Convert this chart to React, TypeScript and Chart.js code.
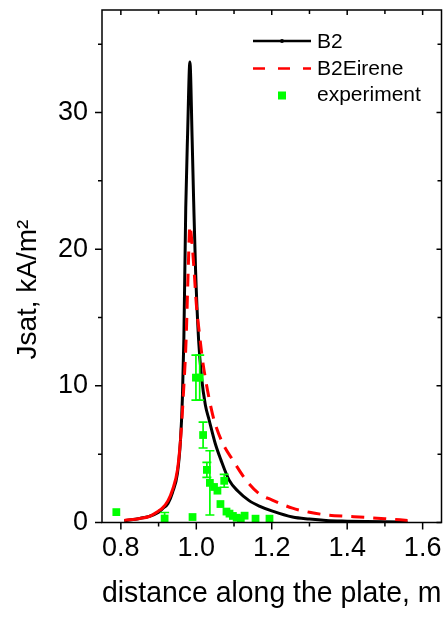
import React, { useEffect, useRef } from 'react';
import { Chart, registerables } from 'chart.js';
Chart.register(...registerables);

// ---- data ----
const seriesLabels = ['B2', 'B2Eirene', 'experiment'];

const b2X = [0.809, 0.85, 0.875, 0.9, 0.91, 0.925, 0.937, 0.95, 0.958, 0.963, 0.967, 0.972, 0.977, 0.983, 0.989, 0.993, 0.998, 1.006, 1.014, 1.024, 1.034, 1.05, 1.065, 1.087, 1.11, 1.14, 1.167, 1.2, 1.255, 1.3, 1.344, 1.4, 1.45, 1.5, 1.56];
const b2Y = [0.13, 0.3, 0.45, 0.75, 1.0, 1.4, 2.2, 3.6, 6.0, 9.0, 13.4, 23, 28.5, 33.7, 28, 23.5, 18.5, 13.4, 10.6, 8.6, 7.5, 5.8, 4.6, 3.1, 2.3, 1.6, 1.2, 0.85, 0.4, 0.25, 0.15, 0.1, 0.07, 0.05, 0.04];

const eirX = [0.809, 0.85, 0.875, 0.9, 0.91, 0.925, 0.937, 0.95, 0.958, 0.966, 0.973, 0.978, 0.983, 0.989, 0.994, 1.0, 1.01, 1.016, 1.025, 1.036, 1.047, 1.07, 1.096, 1.132, 1.167, 1.2, 1.255, 1.3, 1.344, 1.4, 1.432, 1.5, 1.56];
const eirY = [0.15, 0.3, 0.44, 0.85, 1.05, 1.6, 2.4, 3.85, 6.0, 9.5, 13.4, 18.0, 21.7, 20.3, 18.5, 16, 13.4, 12.0, 10.4, 8.8, 7.5, 5.8, 4.6, 3.1, 2.1, 1.66, 1.05, 0.75, 0.56, 0.45, 0.4, 0.28, 0.15];

const expX = [0.788, 0.916, 0.99, 0.999, 1.009, 1.018, 1.028, 1.036, 1.047, 1.056, 1.064, 1.074, 1.08, 1.088, 1.097, 1.107, 1.118, 1.128, 1.157, 1.194];
const expY = [0.76, 0.29, 0.4, 10.6, 10.6, 6.4, 3.85, 2.9, 2.6, 2.33, 1.35, 3.05, 0.8, 0.65, 0.48, 0.35, 0.3, 0.5, 0.28, 0.28];
const expErr = [0, 0.44, 0, 1.65, 1.65, 0.95, 0.55, 2.35, 0, 0, 0, 0.47, 0, 0, 0, 0, 0, 0, 0, 0];

const xMajorTicks = [0.8, 1.0, 1.2, 1.4, 1.6];
const xMinorTicks = [0.9, 1.1, 1.3, 1.5];
const yMajorTicks = [0, 10, 20, 30];
const yMinorTicks = [5, 15, 25, 35];

const xTitle = 'distance along the plate, m';
const yTitle = 'Jsat, kA/m\u00b2';

const FONT = "'Liberation Sans', Arial, Helvetica, sans-serif";
const GREEN = '#00ff00';
const RED = '#ff0000';
const BLACK = '#000000';

export default function App() {
  const ref = useRef<HTMLCanvasElement>(null);

  useEffect(() => {
    document.body.style.margin = '0';
    if (!ref.current) return;

    const errorBars = {
      id: 'errorBars',
      afterDatasetsDraw(chart: any) {
        const { ctx, scales } = chart;
        const x = scales.x, y = scales.y;
        ctx.save();
        ctx.strokeStyle = GREEN;
        ctx.lineWidth = 1.7;
        expX.forEach((xv, i) => {
          const e = expErr[i];
          if (!e) return;
          const px = x.getPixelForValue(xv);
          const lowVal = expY[i] - e;
          const top = y.getPixelForValue(expY[i] + e);
          const bot = y.getPixelForValue(Math.max(0, lowVal));
          ctx.beginPath();
          ctx.moveTo(px, top); ctx.lineTo(px, bot);
          ctx.moveTo(px - 4.5, top); ctx.lineTo(px + 4.5, top);
          if (lowVal > 0) { ctx.moveTo(px - 4.5, bot); ctx.lineTo(px + 4.5, bot); }
          ctx.stroke();
        });
        ctx.restore();
      },
    };

    const frame = {
      id: 'frame',
      afterDraw(chart: any) {
        const { ctx, chartArea: a, scales } = chart;
        const x = scales.x, y = scales.y;
        ctx.save();
        ctx.strokeStyle = BLACK;
        ctx.lineWidth = 1.5;
        ctx.strokeRect(a.left, a.top, a.right - a.left, a.bottom - a.top);
        ctx.beginPath();
        const xt = (vals: number[], outLen: number, inLen: number) => {
          vals.forEach((v) => {
            const p = x.getPixelForValue(v);
            ctx.moveTo(p, a.bottom); ctx.lineTo(p, a.bottom + outLen);
            ctx.moveTo(p, a.top); ctx.lineTo(p, a.top + inLen);
          });
        };
        const yt = (vals: number[], outLen: number, inLen: number) => {
          vals.forEach((v) => {
            const p = y.getPixelForValue(v);
            ctx.moveTo(a.left, p); ctx.lineTo(a.left - outLen, p);
            ctx.moveTo(a.right, p); ctx.lineTo(a.right - inLen, p);
          });
        };
        xt(xMajorTicks, 7, 5);
        xt(xMinorTicks, 4, 4);
        yt(yMajorTicks, 7, 5);
        yt(yMinorTicks, 4, 4);
        ctx.stroke();
        ctx.restore();
      },
    };

    const legend = {
      id: 'customLegend',
      afterDraw(chart: any) {
        const { ctx } = chart;
        const x0 = 253, x1 = 311, tx = 317;
        const rows = [41, 68.5, 95.5];
        ctx.save();
        ctx.font = `21px ${FONT}`;
        ctx.textBaseline = 'middle';
        ctx.textAlign = 'left';
        ctx.fillStyle = BLACK;
        ctx.strokeStyle = BLACK; ctx.lineWidth = 2.5; ctx.setLineDash([]);
        ctx.beginPath(); ctx.moveTo(x0, rows[0]); ctx.lineTo(x1, rows[0]); ctx.stroke();
        ctx.beginPath(); ctx.arc((x0 + x1) / 2, rows[0], 2, 0, Math.PI * 2); ctx.fill();
        ctx.fillText(seriesLabels[0], tx, rows[0] + 1);
        ctx.strokeStyle = RED; ctx.setLineDash([12, 13]);
        ctx.beginPath(); ctx.moveTo(x0, rows[1]); ctx.lineTo(x1, rows[1]); ctx.stroke();
        ctx.setLineDash([]);
        ctx.fillText(seriesLabels[1], tx, rows[1] + 1);
        ctx.fillStyle = GREEN;
        const cx = (x0 + x1) / 2;
        ctx.fillRect(cx - 4, rows[2] - 4, 8, 8);
        ctx.fillStyle = BLACK;
        ctx.fillText(seriesLabels[2], tx, rows[2]);
        ctx.restore();
      },
    };

    const chart = new Chart(ref.current, {
      type: 'scatter',
      data: {
        datasets: [
          {
            label: seriesLabels[2],
            data: expX.map((v, i) => ({ x: v, y: expY[i] })),
            pointStyle: 'rect',
            pointRadius: 5.5,
            pointHoverRadius: 5.5,
            backgroundColor: GREEN,
            borderColor: GREEN,
            borderWidth: 0,
            showLine: false,
            order: 0,
            clip: false,
          } as any,
          {
            label: seriesLabels[1],
            data: eirX.map((v, i) => ({ x: v, y: eirY[i] })),
            showLine: true,
            borderColor: RED,
            backgroundColor: RED,
            borderWidth: 3,
            borderDash: [13, 9],
            pointRadius: 0,
            pointHoverRadius: 0,
            cubicInterpolationMode: 'monotone',
            segment: { borderDash: (c: any) => (c.p0.parsed.x < 0.952 ? [] : undefined) },
            order: 1,
          } as any,
          {
            label: seriesLabels[0],
            data: b2X.map((v, i) => ({ x: v, y: b2Y[i] })),
            showLine: true,
            borderColor: BLACK,
            backgroundColor: BLACK,
            borderWidth: 3,
            pointRadius: 0,
            pointHoverRadius: 0,
            cubicInterpolationMode: 'monotone',
            order: 2,
          } as any,
        ],
      },
      options: {
        animation: false,
        responsive: true,
        maintainAspectRatio: false,
        events: [],
        layout: { padding: { left: 0, right: 4.5, top: 10, bottom: 0 } },
        plugins: { legend: { display: false }, tooltip: { enabled: false } },
        scales: {
          x: {
            type: 'linear',
            min: 0.75,
            max: 1.65,
            afterBuildTicks: (s: any) => { s.ticks = xMajorTicks.map((v) => ({ value: v })); },
            afterFit: (s: any) => { s.height = 96.5; s.paddingLeft = 0; s.paddingRight = 0; },
            grid: { display: false, drawTicks: false },
            border: { display: false },
            ticks: {
              font: { family: FONT, size: 27 },
              color: BLACK,
              padding: 10,
              maxRotation: 0,
              autoSkip: false,
              callback: (v: any) => Number(v).toFixed(1),
            },
            title: {
              display: true,
              text: xTitle,
              font: { family: FONT, size: 29.5 },
              color: BLACK,
              padding: { top: 0, bottom: 7 },
            },
          },
          y: {
            type: 'linear',
            min: 0,
            max: 37.5,
            afterBuildTicks: (s: any) => { s.ticks = yMajorTicks.map((v) => ({ value: v })); },
            afterFit: (s: any) => { s.width = 102; s.paddingTop = 0; s.paddingBottom = 0; },
            grid: { display: false, drawTicks: false },
            border: { display: false },
            ticks: {
              font: { family: FONT, size: 27 },
              color: BLACK,
              padding: 14,
              autoSkip: false,
              callback: (v: any) => String(v),
            },
            title: {
              display: true,
              text: yTitle + '      ',
              font: { family: FONT, size: 28 },
              color: BLACK,
              padding: { top: 11, bottom: 0 },
            },
          },
        },
      },
      plugins: [errorBars, frame, legend],
    });

    return () => chart.destroy();
  }, []);

  return (
    <div style={{ width: 447, height: 619, position: 'relative' }}>
      <canvas ref={ref} />
    </div>
  );
}
